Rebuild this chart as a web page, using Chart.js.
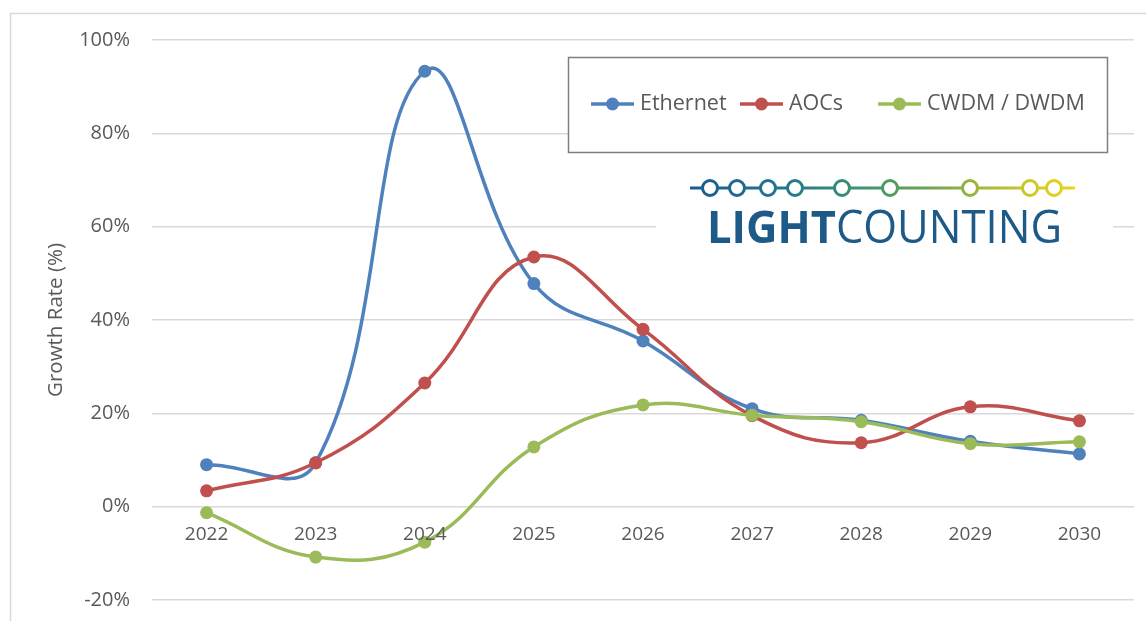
<!DOCTYPE html>
<html>
<head>
<meta charset="utf-8">
<title>Growth Rate</title>
<script src="https://cdn.jsdelivr.net/npm/chart.js@4.4.1/dist/chart.umd.min.js"></script>
<style>
  html, body { margin: 0; padding: 0; background: #ffffff; }
  #wrap { position: relative; width: 1146px; height: 621px; }
  canvas { display: block; }
</style>
</head>
<body>
<div id="wrap"><canvas id="chart" width="1146" height="621"></canvas></div>
<script>
// Yearly growth rates, in percent
const years = ['2022', '2023', '2024', '2025', '2026', '2027', '2028', '2029', '2030'];
const ethernet = [9.0, 9.4, 93.3, 47.8, 35.5, 21.0, 18.5, 14.0, 11.3];
const aocs     = [3.4, 9.4, 26.5, 53.5, 38.0, 19.5, 13.7, 21.4, 18.4];
const cwdm     = [-1.3, -10.8, -7.6, 12.8, 21.8, 19.6, 18.2, 13.5, 13.9];
const yTicks   = [-20, 0, 20, 40, 60, 80, 100];
const seriesNames = ['Ethernet', 'AOCs', 'CWDM / DWDM'];
const logoWords = ['LIGHT', 'COUNTING'];

const FONT = '"Open Sans", "Liberation Sans", sans-serif';
const TEXT = '#595959';
const COLORS = ['#4f81bd', '#c0504d', '#9bbb59'];

function series(label, data, color, order) {
  return {
    label, data,
    borderColor: color,
    backgroundColor: color,
    pointBackgroundColor: color,
    pointBorderColor: color,
    pointRadius: 6.5,
    pointBorderWidth: 0,
    borderWidth: 3.5,
    tension: 0.42,
    fill: false,
    order
  };
}

// Light outer frame around the figure
const framePlugin = {
  id: 'frame',
  beforeDraw(chart) {
    const ctx = chart.ctx;
    ctx.save();
    ctx.fillStyle = '#ffffff';
    ctx.fillRect(0, 0, chart.width, chart.height);
    ctx.strokeStyle = '#d9d9d9';
    ctx.lineWidth = 1.5;
    ctx.strokeRect(10.5, 13.5, chart.width + 20, chart.height + 20);
    ctx.restore();
  }
};

// Category labels sit just under the zero line, where the category axis crosses
const zeroAxisLabelsPlugin = {
  id: 'zeroAxisLabels',
  afterDatasetsDraw(chart) {
    const ctx = chart.ctx;
    const xs = chart.scales.x, ys = chart.scales.y;
    const y0 = ys.getPixelForValue(0);
    ctx.save();
    ctx.font = '19px ' + FONT;
    ctx.fillStyle = TEXT;
    ctx.textAlign = 'center';
    ctx.textBaseline = 'middle';
    chart.data.labels.forEach((lab, i) => {
      ctx.fillText(lab, xs.getPixelForValue(i), y0 + 28);
    });
    ctx.restore();
  }
};

// Boxed legend: line segment with a round marker, then the series name
const boxLegendPlugin = {
  id: 'boxLegend',
  afterDatasetsDraw(chart) {
    const ctx = chart.ctx;
    ctx.save();
    const bx = 568, by = 57, bw = 539, bh = 95;
    ctx.fillStyle = '#ffffff';
    ctx.fillRect(bx, by, bw, bh);
    ctx.strokeStyle = '#7f7f7f';
    ctx.lineWidth = 1.5;
    ctx.strokeRect(bx + 0.5, by + 0.5, bw, bh);

    ctx.font = '21.5px ' + FONT;
    ctx.textBaseline = 'middle';
    ctx.textAlign = 'left';
    const cy = 104;
    const starts = [591, 740, 878];
    chart.data.datasets.forEach((ds, i) => {
      const x = starts[i];
      ctx.strokeStyle = ds.borderColor;
      ctx.lineWidth = 3.5;
      ctx.beginPath();
      ctx.moveTo(x, cy);
      ctx.lineTo(x + 43, cy);
      ctx.stroke();
      ctx.fillStyle = ds.borderColor;
      ctx.beginPath();
      ctx.arc(x + 21.5, cy, 6.5, 0, Math.PI * 2);
      ctx.fill();
      ctx.fillStyle = TEXT;
      ctx.fillText(ds.label, x + 49, cy);
    });
    ctx.restore();
  }
};

// Company wordmark: a chain of rings on a blue-to-yellow line above the name
const logoPlugin = {
  id: 'logo',
  afterDatasetsDraw(chart) {
    const ctx = chart.ctx;
    ctx.save();
    ctx.fillStyle = '#ffffff';
    ctx.fillRect(656, 166, 457, 92);

    const ly = 188, x0 = 690, x1 = 1075;
    const grad = ctx.createLinearGradient(x0, 0, x1, 0);
    grad.addColorStop(0.00, '#1b5c8c');
    grad.addColorStop(0.25, '#22788e');
    grad.addColorStop(0.45, '#3f9470');
    grad.addColorStop(0.62, '#6da452');
    grad.addColorStop(0.80, '#b4bd34');
    grad.addColorStop(1.00, '#ecd61a');
    ctx.strokeStyle = grad;
    ctx.lineWidth = 3;
    ctx.beginPath();
    ctx.moveTo(x0, ly);
    ctx.lineTo(x1, ly);
    ctx.stroke();

    const rings = [710, 737, 768, 795, 842, 890, 970, 1030, 1054];
    rings.forEach((cx) => {
      ctx.beginPath();
      ctx.arc(cx, ly, 7.5, 0, Math.PI * 2);
      ctx.fillStyle = '#ffffff';
      ctx.fill();
      ctx.lineWidth = 3;
      ctx.strokeStyle = grad;
      ctx.stroke();
    });

    // Name: bold first word, regular second word, fitted to the ring chain
    const size = 45;
    const boldFont = '700 ' + size + 'px ' + FONT;
    const regFont = '400 ' + size + 'px ' + FONT;
    ctx.font = boldFont;
    const w1 = ctx.measureText(logoWords[0]).width;
    ctx.font = regFont;
    const w2 = ctx.measureText(logoWords[1]).width;
    const tx = 707, tw = 355, base = 243;
    const sx = tw / (w1 + w2);
    ctx.translate(tx, base);
    ctx.scale(sx, 1);
    ctx.fillStyle = '#1d5a87';
    ctx.textBaseline = 'alphabetic';
    ctx.textAlign = 'left';
    ctx.font = boldFont;
    ctx.fillText(logoWords[0], 0, 0);
    ctx.font = regFont;
    ctx.fillText(logoWords[1], w1, 0);
    ctx.restore();
  }
};

new Chart(document.getElementById('chart'), {
  type: 'line',
  data: {
    labels: years,
    datasets: [
      series(seriesNames[0], ethernet, COLORS[0], 3),
      series(seriesNames[1], aocs, COLORS[1], 2),
      series(seriesNames[2], cwdm, COLORS[2], 1)
    ]
  },
  options: {
    responsive: false,
    animation: false,
    devicePixelRatio: 1,
    layout: { padding: { left: 0, right: 12, top: 40, bottom: 21 } },
    plugins: {
      legend: { display: false },
      tooltip: { enabled: false },
      title: { display: false }
    },
    scales: {
      x: {
        type: 'category',
        offset: true,
        display: false
      },
      y: {
        min: -20,
        max: 100,
        afterBuildTicks(scale) { scale.ticks = yTicks.map(v => ({ value: v })); },
        afterFit(scale) {
          scale.width = 152;
          scale.paddingTop = 0;
          scale.paddingBottom = 0;
        },
        grid: { color: '#d9d9d9', lineWidth: 1.5, drawTicks: false },
        border: { display: false },
        ticks: {
          color: TEXT,
          font: { family: FONT, size: 20 },
          padding: 22,
          callback: v => v + '%'
        },
        title: {
          display: true,
          text: 'Growth Rate (%)',
          color: TEXT,
          font: { family: FONT, size: 20.5 },
          padding: { top: 44, bottom: 0 }
        }
      }
    }
  },
  plugins: [framePlugin, zeroAxisLabelsPlugin, boxLegendPlugin, logoPlugin]
});
</script>
</body>
</html>
